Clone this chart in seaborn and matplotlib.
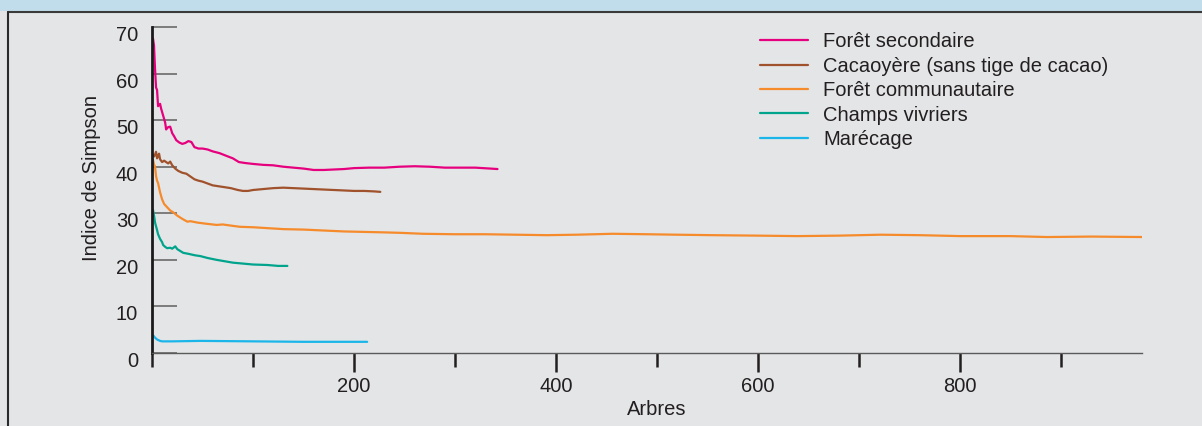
import matplotlib
matplotlib.use("Agg")
import matplotlib.pyplot as plt
import matplotlib.transforms as mtransforms
from matplotlib.patches import Rectangle
from matplotlib.lines import Line2D
from matplotlib.ticker import MultipleLocator
import pandas as pd
import seaborn as sns

# Données (indice de Simpson selon le nombre d'arbres)
secondaire_x = [1, 2, 3, 4, 5, 6, 8, 9, 11, 13, 14, 16, 18, 20, 22, 24, 27, 30, 33, 36, 39, 42, 46, 50,
                55, 60, 67, 74, 80, 86, 92, 100, 110, 120, 130, 140, 150, 160, 170, 180, 190, 200, 215,
                230, 245, 260, 275, 290, 305, 320, 335, 342]
secondaire_y = [67.5, 66, 61, 57, 56.5, 53, 53.5, 52.5, 51, 49.5, 48, 48.5, 48.6, 47.2, 46.5, 45.7, 45.2,
                44.9, 45.1, 45.5, 45.3, 44.2, 43.9, 43.9, 43.7, 43.3, 42.9, 42.3, 41.8, 41.0, 40.8, 40.6,
                40.4, 40.3, 40.0, 39.8, 39.6, 39.3, 39.3, 39.4, 39.5, 39.7, 39.8, 39.8, 40.0, 40.1, 40.0,
                39.8, 39.8, 39.8, 39.6, 39.5]

cacao_x = [1, 2, 3, 4, 5, 6, 7, 8, 10, 12, 14, 16, 18, 20, 23, 26, 30, 34, 38, 42, 46, 50, 55, 60, 66,
           72, 78, 85, 90, 95, 100, 110, 120, 130, 140, 150, 160, 170, 180, 190, 200, 210, 220, 226]
cacao_y = [42.5, 42.2, 42.6, 43.2, 41.8, 42.3, 42.8, 41.6, 41.0, 41.3, 41.0, 40.7, 41.1, 40.3, 39.6, 39.1,
           38.7, 38.5, 37.9, 37.3, 37.0, 36.8, 36.4, 36.0, 35.8, 35.6, 35.4, 35.0, 34.8, 34.8, 35.0, 35.2,
           35.4, 35.5, 35.4, 35.3, 35.2, 35.1, 35.0, 34.9, 34.8, 34.8, 34.7, 34.6]

communautaire_x = [1, 2, 3, 4, 5, 6, 8, 10, 12, 15, 18, 21, 25, 30, 35, 38, 45, 52, 60, 64, 70, 80, 87,
                   100, 115, 130, 150, 170, 190, 210, 230, 246, 268, 300, 330, 360, 391, 420, 456, 490,
                   520, 555, 600, 639, 680, 721, 760, 800, 850, 886, 930, 980]
communautaire_y = [41.5, 40.5, 40, 38, 37, 36.5, 34.5, 33, 32, 31.3, 30.6, 30.2, 29.5, 28.8, 28.2, 28.3,
                   28.0, 27.8, 27.6, 27.5, 27.6, 27.3, 27.1, 27.0, 26.8, 26.6, 26.5, 26.3, 26.1, 26.0,
                   25.9, 25.8, 25.6, 25.5, 25.5, 25.4, 25.3, 25.4, 25.6, 25.5, 25.4, 25.3, 25.2, 25.1,
                   25.2, 25.4, 25.3, 25.1, 25.1, 24.9, 25.0, 24.9]

vivriers_x = [1, 2, 3, 4, 5, 6, 8, 10, 11, 13, 15, 18, 20, 23, 25, 28, 31, 36, 42, 48, 55, 64, 72, 80,
              90, 100, 114, 125, 134]
vivriers_y = [30.7, 29.5, 28, 27.2, 26.4, 25.5, 24.5, 23.8, 23.2, 22.8, 22.5, 22.6, 22.4, 22.9, 22.3,
              21.9, 21.5, 21.3, 21.0, 20.8, 20.4, 20.0, 19.7, 19.4, 19.2, 19.0, 18.9, 18.7, 18.7]

marecage_x = [1, 3, 5, 8, 10, 20, 48, 100, 150, 213]
marecage_y = [3.8, 3.3, 2.9, 2.6, 2.5, 2.5, 2.6, 2.5, 2.4, 2.4]

noms = ["Forêt secondaire", "Cacaoyère (sans tige de cacao)", "Forêt communautaire",
        "Champs vivriers", "Marécage"]
couleurs = ["#e6007e", "#a0522d", "#f68b2c", "#00a48c", "#1ab6ea"]

series = [(secondaire_x, secondaire_y), (cacao_x, cacao_y), (communautaire_x, communautaire_y),
          (vivriers_x, vivriers_y), (marecage_x, marecage_y)]

lignes = []
for nom, (xs, ys) in zip(noms, series):
    for x, y in zip(xs, ys):
        lignes.append({"Arbres": x, "Simpson": y, "Milieu": nom})
df = pd.DataFrame(lignes)

sns.set_theme(style="ticks")
plt.rcParams['font.family'] = ['Liberation Sans', 'DejaVu Sans']
texte = "#231f20"
fond = "#e4e5e7"
taille = 14.5

fig = plt.figure(figsize=(12.02, 4.26), dpi=100, facecolor=fond)
ax = fig.add_axes([152 / 1202, 1 - 353 / 426, 990 / 1202, 326 / 426])
ax.set_facecolor(fond)

# bandeau bleu et bordures du cadre
fig.patches.append(Rectangle((0, 1 - 11 / 426), 1, 11 / 426, transform=fig.transFigure,
                             facecolor="#c1dcea", edgecolor="none", zorder=0))
fig.lines.append(Line2D([8 / 1202, 1], [1 - 11.5 / 426] * 2, transform=fig.transFigure,
                        color="#3a3a3a", lw=1.5))
fig.lines.append(Line2D([8 / 1202] * 2, [0, 1 - 11.5 / 426], transform=fig.transFigure,
                        color="#2a2a2a", lw=1.5))

sns.lineplot(data=df, x="Arbres", y="Simpson", hue="Milieu", hue_order=noms,
             palette=dict(zip(noms, couleurs)), estimator=None, sort=False,
             linewidth=1.6, ax=ax, legend=False)

ax.set_xlim(0, 980)
ax.set_ylim(0, 70)
ax.xaxis.set_minor_locator(MultipleLocator(100))
ax.yaxis.set_major_locator(MultipleLocator(10))
ax.set_xticks([200, 400, 600, 800])

sns.despine(ax=ax, top=True, right=True)
ax.spines['left'].set_color("#1a1a1a")
ax.spines['left'].set_linewidth(2)
ax.spines['bottom'].set_color("#5a5a5a")
ax.spines['bottom'].set_linewidth(1)

ax.tick_params(axis='y', direction='in', length=18, width=1.2, color="#6a6a6a",
               labelsize=taille, labelcolor=texte, pad=10)
ax.tick_params(axis='x', which='major', direction='out', length=14, width=1.8, color=texte,
               labelsize=taille, labelcolor=texte, pad=3)
ax.tick_params(axis='x', which='minor', direction='out', length=10, width=1.8, color=texte)

# les chiffres de l'axe y sont un peu sous les traits
decalage = mtransforms.ScaledTranslation(0, -0.065, fig.dpi_scale_trans)
for lab in ax.get_yticklabels():
    lab.set_transform(lab.get_transform() + decalage)

ax.set_xlabel("Arbres", fontsize=taille, color=texte)
ax.xaxis.set_label_coords(0.51, -0.145)
ax.set_ylabel("Indice de Simpson", fontsize=taille, color=texte)
ax.yaxis.set_label_coords(-0.052, 0.537)

poignees = [Line2D([0], [0], color=c, lw=1.6) for c in couleurs]
ax.legend(poignees, noms, loc="upper left", bbox_to_anchor=(0.614, 0.984), frameon=False,
          fontsize=taille, handlelength=2.4, handletextpad=0.75, labelspacing=0.27,
          borderpad=0, borderaxespad=0, labelcolor=texte)

fig.savefig("out.png", dpi=100, facecolor=fond)
